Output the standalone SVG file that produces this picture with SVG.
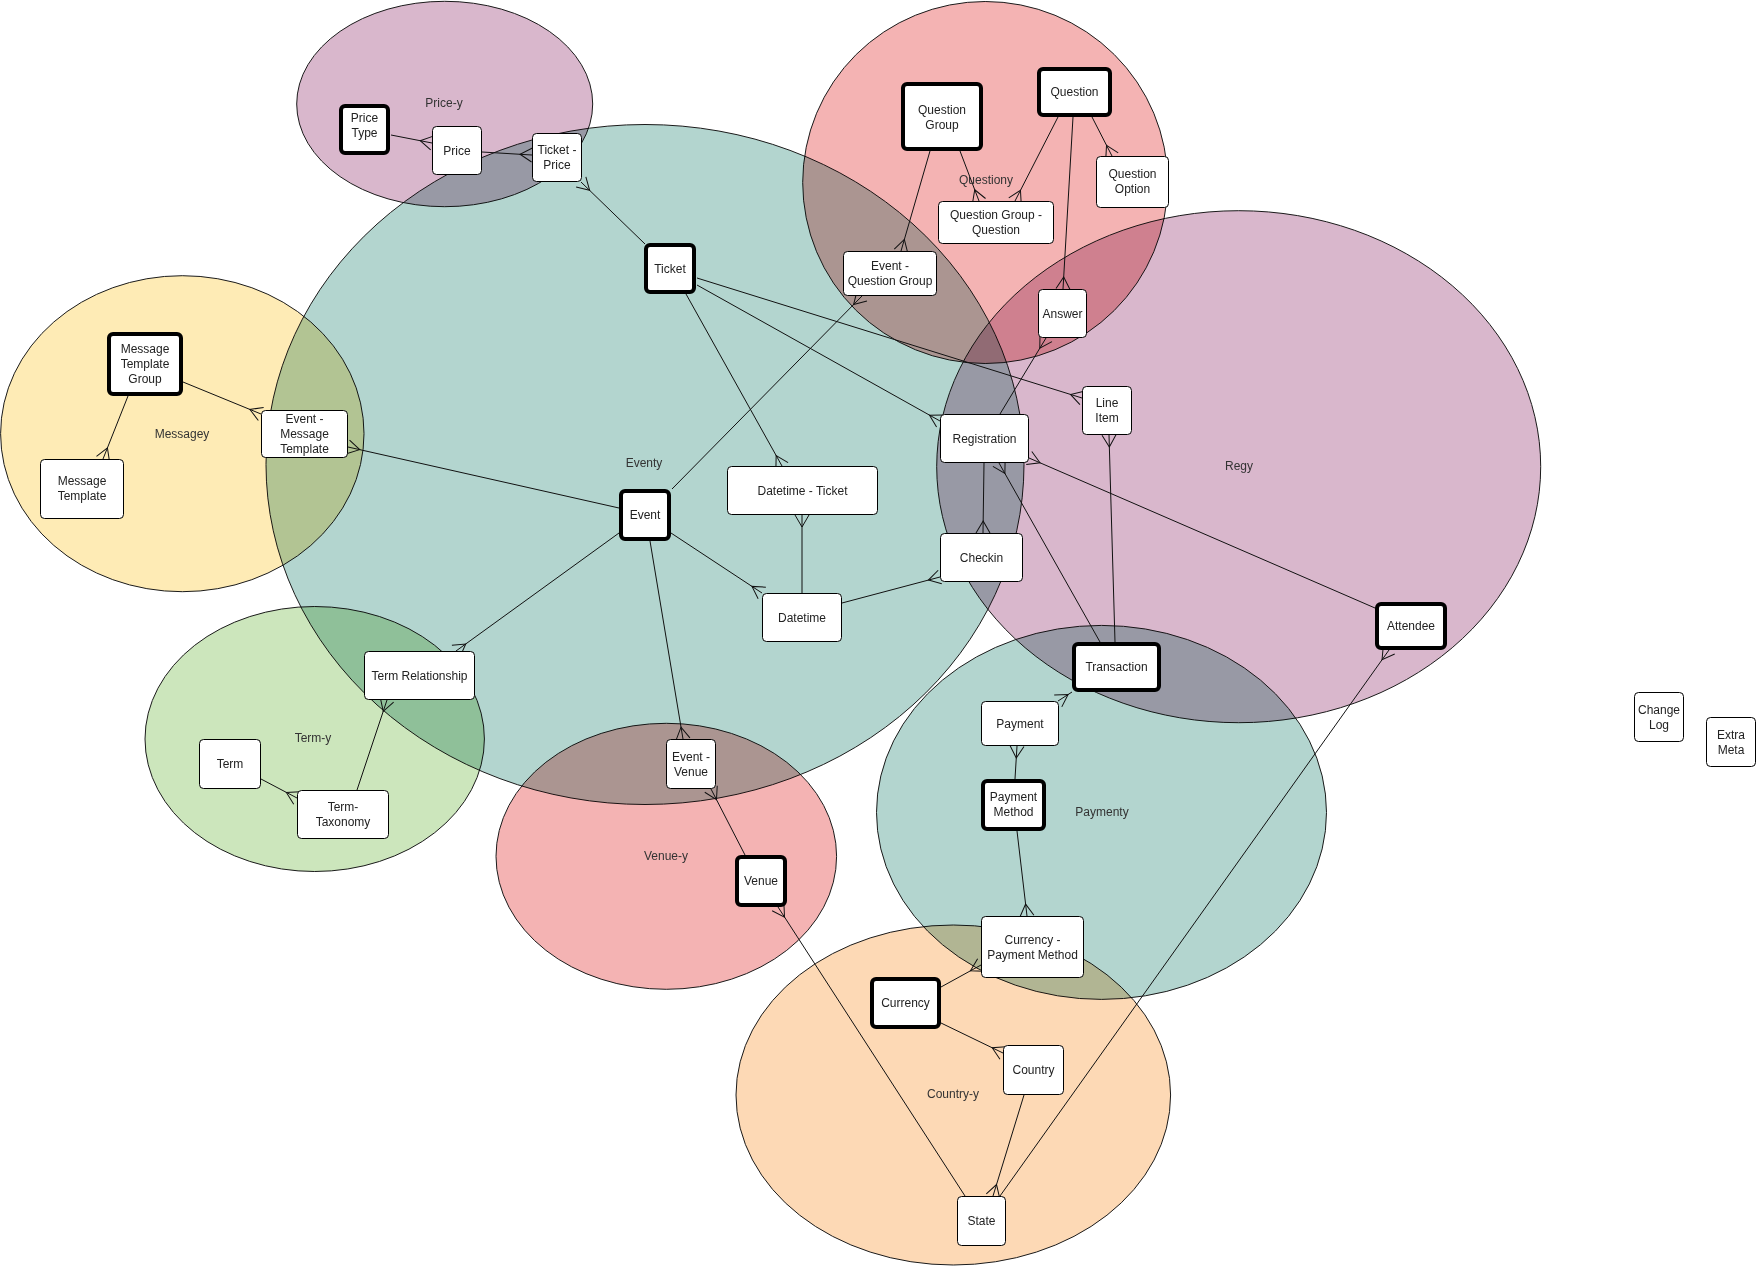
<svg xmlns="http://www.w3.org/2000/svg" width="1757" height="1266" viewBox="0 0 1757 1266">
<style>
.area{stroke:#1a1a1a;stroke-width:1;mix-blend-mode:multiply}
.lbl{font-family:"Liberation Sans",Arial,sans-serif;font-size:12px;fill:#333;text-anchor:middle}
.n rect{fill:#fff;stroke:#000;stroke-width:1}
.n.k rect{stroke-width:4}
.n text{font-family:"Liberation Sans",Arial,sans-serif;font-size:12px;fill:#222;text-anchor:middle}
#connectors line{stroke:#111;stroke-width:1;marker-end:url(#crow)}
</style>
<defs>
<marker id="crow" viewBox="-14 -9 16 18" refX="0" refY="0" markerWidth="16" markerHeight="18" markerUnits="userSpaceOnUse" orient="auto" overflow="visible">
<path d="M0,-7 L-12,0 L0,7" fill="none" stroke="#111" stroke-width="1"/>
</marker>
</defs>
<rect width="1757" height="1266" fill="#fff"/>
<g id="areas">
<ellipse id="area-event" class="area" cx="645" cy="464.5" rx="379" ry="340" fill="#B3D5CF"/>
<ellipse id="area-price" class="area" cx="444.7" cy="104" rx="148" ry="102.7" fill="#D9B7CC"/>
<ellipse id="area-question" class="area" cx="985.2" cy="182.5" rx="182.5" ry="181" fill="#F4B3B3"/>
<ellipse id="area-message" class="area" cx="182.3" cy="433.7" rx="181.7" ry="158" fill="#FEEBB5"/>
<ellipse id="area-reg" class="area" cx="1238.7" cy="466.7" rx="302" ry="256" fill="#D9B7CC"/>
<ellipse id="area-term" class="area" cx="314.7" cy="739" rx="169.7" ry="132.5" fill="#CCE6BC"/>
<ellipse id="area-venue" class="area" cx="666.3" cy="856.3" rx="170.3" ry="133" fill="#F4B3B3"/>
<ellipse id="area-payment" class="area" cx="1101.5" cy="812.4" rx="225" ry="187" fill="#B3D5CF"/>
<ellipse id="area-country" class="area" cx="953.3" cy="1095" rx="217.3" ry="170" fill="#FDD9B5"/>
<text class="lbl" x="444" y="107">Price-y</text>
<text class="lbl" x="986" y="184">Questiony</text>
<text class="lbl" x="182" y="438">Messagey</text>
<text class="lbl" x="644" y="467">Eventy</text>
<text class="lbl" x="1239" y="470">Regy</text>
<text class="lbl" x="313" y="742">Term-y</text>
<text class="lbl" x="666" y="860">Venue-y</text>
<text class="lbl" x="1102" y="816">Paymenty</text>
<text class="lbl" x="953" y="1098">Country-y</text>
</g>
<g id="connectors">
<line x1="391" y1="135" x2="432" y2="143"/>
<line x1="482" y1="152" x2="532" y2="155"/>
<line x1="645" y1="244" x2="581" y2="182"/>
<line x1="686" y1="294" x2="782" y2="466"/>
<line x1="697" y1="285" x2="940" y2="421"/>
<line x1="697" y1="278" x2="1082" y2="398"/>
<line x1="672" y1="489" x2="862" y2="296"/>
<line x1="930" y1="151" x2="901" y2="251"/>
<line x1="960" y1="151" x2="979" y2="201"/>
<line x1="1058" y1="117" x2="1015" y2="201"/>
<line x1="1092" y1="117" x2="1112" y2="156"/>
<line x1="1073" y1="117" x2="1063" y2="289"/>
<line x1="1000" y1="414" x2="1046" y2="338"/>
<line x1="619" y1="508" x2="348" y2="447"/>
<line x1="183" y1="382" x2="261" y2="414"/>
<line x1="128" y1="396" x2="103" y2="459"/>
<line x1="619" y1="533" x2="456" y2="651"/>
<line x1="357" y1="790" x2="387" y2="700"/>
<line x1="261" y1="779" x2="297" y2="798"/>
<line x1="650" y1="541" x2="683" y2="739"/>
<line x1="745" y1="855" x2="711" y2="789"/>
<line x1="965" y1="1196" x2="778" y2="907"/>
<line x1="671" y1="533" x2="762" y2="593"/>
<line x1="802" y1="593" x2="802" y2="515"/>
<line x1="842" y1="603" x2="940" y2="577"/>
<line x1="984" y1="463" x2="983" y2="533"/>
<line x1="1100" y1="642" x2="999" y2="463"/>
<line x1="1375" y1="608" x2="1029" y2="458"/>
<line x1="1115" y1="642" x2="1109" y2="435"/>
<line x1="1072" y1="692" x2="1058" y2="701"/>
<line x1="1015" y1="779" x2="1017" y2="746"/>
<line x1="1017" y1="831" x2="1027" y2="916"/>
<line x1="941" y1="987" x2="981" y2="965"/>
<line x1="941" y1="1023" x2="1003" y2="1053"/>
<line x1="1024" y1="1095" x2="993" y2="1196"/>
<line x1="1000" y1="1196" x2="1389" y2="650"/>
</g>
<g id="node-price-type" class="n k"><rect x="341" y="106" width="47" height="47" rx="4"/><text x="364.5" y="122">Price</text><text x="364.5" y="137">Type</text></g>
<g id="node-price" class="n"><rect x="432.5" y="126.5" width="49" height="48" rx="4"/><text x="457" y="155">Price</text></g>
<g id="node-ticket-price" class="n"><rect x="532.5" y="133.5" width="49" height="48" rx="4"/><text x="557" y="154">Ticket -</text><text x="557" y="169">Price</text></g>
<g id="node-question-group" class="n k"><rect x="903" y="84" width="78" height="65" rx="4"/><text x="942" y="114">Question</text><text x="942" y="129">Group</text></g>
<g id="node-question" class="n k"><rect x="1039" y="69" width="71" height="46" rx="4"/><text x="1074.5" y="96">Question</text></g>
<g id="node-question-option" class="n"><rect x="1096.5" y="156.5" width="72" height="51" rx="4"/><text x="1132.5" y="178">Question</text><text x="1132.5" y="193">Option</text></g>
<g id="node-qg-question" class="n"><rect x="938.5" y="201.5" width="115" height="42" rx="4"/><text x="996" y="219">Question Group -</text><text x="996" y="234">Question</text></g>
<g id="node-event-question-group" class="n"><rect x="843.5" y="251.5" width="93" height="44" rx="4"/><text x="890" y="270">Event -</text><text x="890" y="285">Question Group</text></g>
<g id="node-answer" class="n"><rect x="1038.5" y="289.5" width="48" height="48" rx="4"/><text x="1062.5" y="317.5">Answer</text></g>
<g id="node-message-template-group" class="n k"><rect x="109" y="334" width="72" height="60" rx="4"/><text x="145" y="353">Message</text><text x="145" y="368">Template</text><text x="145" y="383">Group</text></g>
<g id="node-message-template" class="n"><rect x="40.5" y="459.5" width="83" height="59" rx="4"/><text x="82" y="485">Message</text><text x="82" y="500">Template</text></g>
<g id="node-event-message-template" class="n"><rect x="261.5" y="410.5" width="86" height="47" rx="4"/><text x="304.5" y="423">Event -</text><text x="304.5" y="438">Message</text><text x="304.5" y="453">Template</text></g>
<g id="node-ticket" class="n k"><rect x="646" y="245" width="48" height="47" rx="4"/><text x="670" y="272.5">Ticket</text></g>
<g id="node-event" class="n k"><rect x="621" y="491" width="48" height="48" rx="4"/><text x="645" y="519">Event</text></g>
<g id="node-datetime-ticket" class="n"><rect x="727.5" y="466.5" width="150" height="48" rx="4"/><text x="802.5" y="494.5">Datetime - Ticket</text></g>
<g id="node-datetime" class="n"><rect x="762.5" y="593.5" width="79" height="48" rx="4"/><text x="802" y="621.5">Datetime</text></g>
<g id="node-registration" class="n"><rect x="940.5" y="414.5" width="88" height="48" rx="4"/><text x="984.5" y="442.5">Registration</text></g>
<g id="node-checkin" class="n"><rect x="940.5" y="533.5" width="82" height="48" rx="4"/><text x="981.5" y="561.5">Checkin</text></g>
<g id="node-line-item" class="n"><rect x="1082.5" y="386.5" width="49" height="48" rx="4"/><text x="1107" y="407">Line</text><text x="1107" y="422">Item</text></g>
<g id="node-attendee" class="n k"><rect x="1377" y="604" width="68" height="44" rx="4"/><text x="1411" y="630">Attendee</text></g>
<g id="node-transaction" class="n k"><rect x="1074" y="644" width="85" height="46" rx="4"/><text x="1116.5" y="671">Transaction</text></g>
<g id="node-term-relationship" class="n"><rect x="364.5" y="651.5" width="110" height="48" rx="4"/><text x="419.5" y="679.5">Term Relationship</text></g>
<g id="node-term" class="n"><rect x="199.5" y="739.5" width="61" height="49" rx="4"/><text x="230" y="768">Term</text></g>
<g id="node-term-taxonomy" class="n"><rect x="297.5" y="790.5" width="91" height="48" rx="4"/><text x="343" y="811">Term-</text><text x="343" y="826">Taxonomy</text></g>
<g id="node-event-venue" class="n"><rect x="666.5" y="739.5" width="49" height="49" rx="4"/><text x="691" y="761">Event -</text><text x="691" y="776">Venue</text></g>
<g id="node-venue" class="n k"><rect x="737" y="857" width="48" height="48" rx="4"/><text x="761" y="885">Venue</text></g>
<g id="node-payment" class="n"><rect x="981.5" y="701.5" width="77" height="44" rx="4"/><text x="1020" y="727.5">Payment</text></g>
<g id="node-payment-method" class="n k"><rect x="983" y="781" width="61" height="48" rx="4"/><text x="1013.5" y="801">Payment</text><text x="1013.5" y="816">Method</text></g>
<g id="node-currency-payment-method" class="n"><rect x="981.5" y="916.5" width="102" height="61" rx="4"/><text x="1032.5" y="943.5">Currency -</text><text x="1032.5" y="958.5">Payment Method</text></g>
<g id="node-currency" class="n k"><rect x="872" y="979" width="67" height="48" rx="4"/><text x="905.5" y="1007">Currency</text></g>
<g id="node-country" class="n"><rect x="1003.5" y="1045.5" width="60" height="49" rx="4"/><text x="1033.5" y="1074">Country</text></g>
<g id="node-state" class="n"><rect x="957.5" y="1196.5" width="48" height="49" rx="4"/><text x="981.5" y="1225">State</text></g>
<g id="node-change-log" class="n"><rect x="1634.5" y="692.5" width="49" height="49" rx="4"/><text x="1659" y="714">Change</text><text x="1659" y="729">Log</text></g>
<g id="node-extra-meta" class="n"><rect x="1706.5" y="717.5" width="49" height="49" rx="4"/><text x="1731" y="739">Extra</text><text x="1731" y="754">Meta</text></g>
</svg>
